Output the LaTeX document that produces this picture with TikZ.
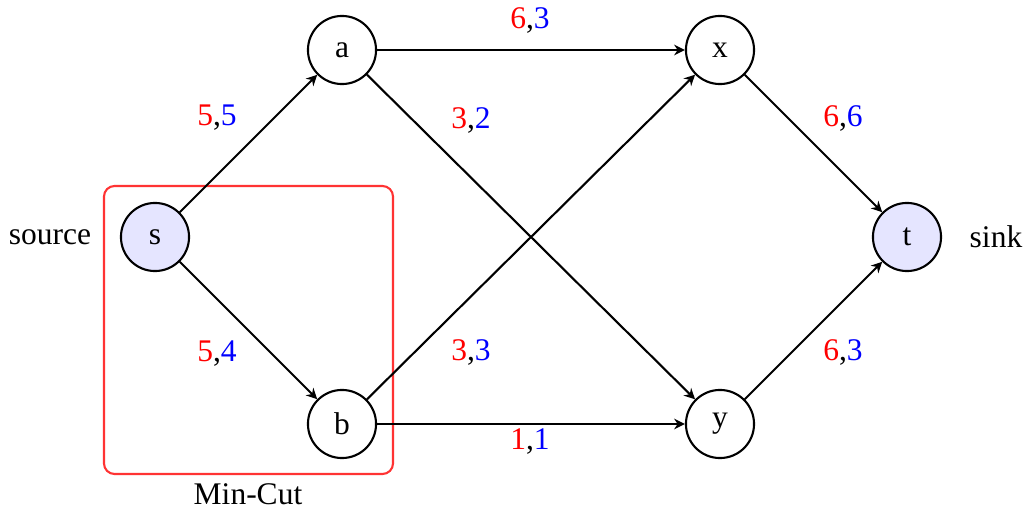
\documentclass[tikz,border=0pt]{standalone}
\usepackage{fontspec}
\setmainfont{Liberation Serif}
\usetikzlibrary{arrows.meta}
\begin{document}
\begin{tikzpicture}[x=0.3333pt,y=-0.3333pt,
  vert/.style={circle,draw,line width=0.7pt,minimum size=22.7pt,inner sep=0pt,font=\fontsize{10.5}{12}\selectfont},
  term/.style={vert,fill=blue!10},
  edge/.style={line width=0.7pt,-{Stealth[length=9pt*0.3333/0.3333*0.4,width=6.5pt*0.4/0.4*0.55]}},
  lbl/.style={font=\fontsize{10.5}{12}\selectfont,inner sep=0pt},
  cut/.style={draw=red!80,line width=0.7pt,rounded corners=3.5pt}]
\useasboundingbox (0,0) rectangle (1026,511);
\node[term] (s) at (155,237) {s};
\node[vert] (a) at (342,50) {a};
\node[vert] (b) at (342,424) {b};
\node[vert] (x) at (720,50) {x};
\node[vert] (y) at (720,424) {y};
\node[term] (t) at (907,237) {t};
\node[lbl] (src) at (50,237) {source};
\node[lbl] (snk) at (996,237) {sink};
\draw[cut] (104,186) rectangle (393,474);
\node[lbl] (mc) at (248,494) {Min-Cut};
\draw[edge] (s) -- (a);
\draw[edge] (s) -- (b);
\draw[edge] (a) -- (x);
\draw[edge] (a) -- (y);
\draw[edge] (b) -- (x);
\draw[edge] (b) -- (y);
\draw[edge] (x) -- (t);
\draw[edge] (y) -- (t);
\node[lbl] (l1) at (217,118) {\textcolor{red}{5},\textcolor{blue}{5}};
\node[lbl] (l2) at (217,354) {\textcolor{red}{5},\textcolor{blue}{4}};
\node[lbl] (l3) at (530,20) {\textcolor{red}{6},\textcolor{blue}{3}};
\node[lbl] (l4) at (471,120) {\textcolor{red}{3},\textcolor{blue}{2}};
\node[lbl] (l5) at (471,352) {\textcolor{red}{3},\textcolor{blue}{3}};
\node[lbl] (l6) at (530,442) {\textcolor{red}{1},\textcolor{blue}{1}};
\node[lbl] (l7) at (843,118) {\textcolor{red}{6},\textcolor{blue}{6}};
\node[lbl] (l8) at (843,352) {\textcolor{red}{6},\textcolor{blue}{3}};
\end{tikzpicture}
\end{document}
